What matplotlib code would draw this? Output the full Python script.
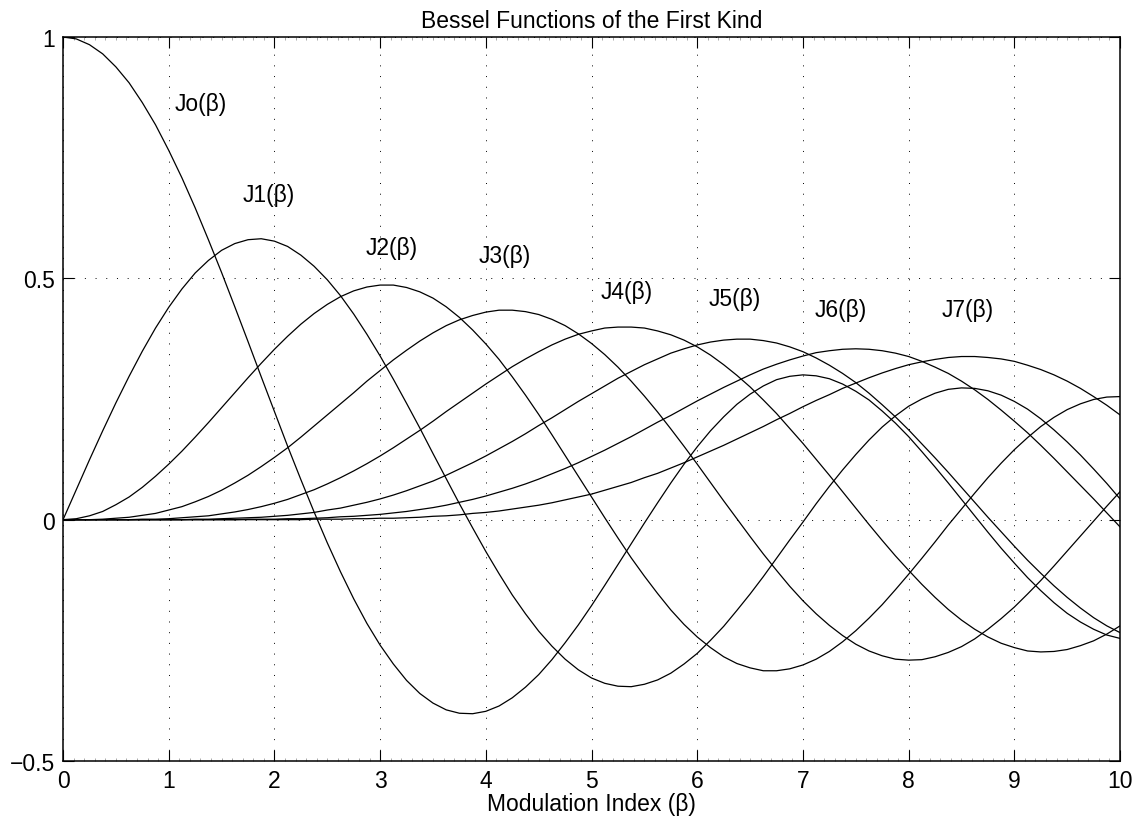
import matplotlib
matplotlib.use("Agg")
import matplotlib.pyplot as plt
import numpy as np
from matplotlib.ticker import MultipleLocator

plt.rcParams['font.family'] = ['Liberation Sans', 'DejaVu Sans']
plt.rcParams['lines.scale_dashes'] = False

beta = np.arange(81) * 0.125

J0 = [1.000, 0.996, 0.984, 0.965, 0.938, 0.905, 0.864, 0.818, 0.765, 0.708,
      0.646, 0.580, 0.512, 0.441, 0.369, 0.296, 0.224, 0.152, 0.083, 0.016,
      -0.048, -0.108, -0.164, -0.215, -0.260, -0.299, -0.333, -0.360, -0.380, -0.394,
      -0.401, -0.402, -0.397, -0.386, -0.369, -0.347, -0.321, -0.290, -0.255, -0.218,
      -0.178, -0.136, -0.093, -0.050, -0.007, 0.035, 0.076, 0.115, 0.151, 0.184,
      0.213, 0.239, 0.260, 0.277, 0.290, 0.297, 0.300, 0.298, 0.292, 0.281,
      0.266, 0.248, 0.225, 0.200, 0.172, 0.141, 0.109, 0.076, 0.042, 0.008,
      -0.026, -0.059, -0.090, -0.120, -0.147, -0.172, -0.194, -0.212, -0.227, -0.239,
      -0.246]
J1 = [0.000, 0.062, 0.124, 0.184, 0.242, 0.297, 0.349, 0.397, 0.440, 0.478,
      0.511, 0.537, 0.558, 0.572, 0.580, 0.582, 0.577, 0.566, 0.548, 0.525,
      0.497, 0.464, 0.426, 0.384, 0.339, 0.291, 0.241, 0.190, 0.137, 0.085,
      0.033, -0.017, -0.066, -0.112, -0.156, -0.195, -0.231, -0.262, -0.289, -0.311,
      -0.328, -0.339, -0.345, -0.346, -0.341, -0.332, -0.318, -0.299, -0.277, -0.250,
      -0.221, -0.188, -0.154, -0.118, -0.080, -0.042, -0.005, 0.033, 0.069, 0.103,
      0.135, 0.165, 0.192, 0.215, 0.235, 0.250, 0.262, 0.270, 0.273, 0.272,
      0.267, 0.258, 0.245, 0.229, 0.209, 0.186, 0.161, 0.134, 0.105, 0.075,
      0.043]
J2 = [0.000, 0.002, 0.008, 0.017, 0.031, 0.047, 0.067, 0.090, 0.115, 0.142,
      0.171, 0.201, 0.232, 0.263, 0.294, 0.324, 0.353, 0.380, 0.405, 0.427,
      0.446, 0.462, 0.474, 0.482, 0.486, 0.486, 0.481, 0.472, 0.459, 0.441,
      0.419, 0.393, 0.364, 0.332, 0.296, 0.258, 0.218, 0.176, 0.133, 0.090,
      0.047, 0.004, -0.038, -0.079, -0.117, -0.153, -0.187, -0.217, -0.243, -0.265,
      -0.284, -0.298, -0.307, -0.313, -0.313, -0.309, -0.301, -0.289, -0.273, -0.253,
      -0.230, -0.204, -0.176, -0.145, -0.113, -0.080, -0.046, -0.011, 0.022, 0.055,
      0.087, 0.117, 0.145, 0.170, 0.193, 0.212, 0.228, 0.240, 0.249, 0.254,
      0.255]
J3 = [0.000, 0.000, 0.000, 0.001, 0.003, 0.005, 0.009, 0.013, 0.020, 0.027,
      0.037, 0.048, 0.061, 0.076, 0.092, 0.110, 0.129, 0.149, 0.171, 0.194,
      0.217, 0.240, 0.263, 0.287, 0.309, 0.331, 0.351, 0.370, 0.387, 0.402,
      0.414, 0.423, 0.430, 0.434, 0.434, 0.431, 0.425, 0.415, 0.402, 0.385,
      0.365, 0.342, 0.316, 0.287, 0.256, 0.223, 0.188, 0.152, 0.115, 0.077,
      0.039, 0.002, -0.035, -0.071, -0.105, -0.138, -0.168, -0.195, -0.219, -0.240,
      -0.258, -0.272, -0.282, -0.289, -0.291, -0.290, -0.284, -0.275, -0.263, -0.247,
      -0.227, -0.205, -0.181, -0.154, -0.126, -0.096, -0.065, -0.034, -0.003, 0.028,
      0.058]
J4 = [0.000, 0.000, 0.000, 0.000, 0.000, 0.000, 0.001, 0.001, 0.002, 0.004,
      0.006, 0.008, 0.012, 0.016, 0.021, 0.027, 0.034, 0.042, 0.052, 0.062,
      0.074, 0.087, 0.101, 0.116, 0.132, 0.149, 0.167, 0.185, 0.204, 0.224,
      0.243, 0.262, 0.281, 0.299, 0.317, 0.333, 0.348, 0.362, 0.374, 0.384,
      0.391, 0.397, 0.399, 0.399, 0.397, 0.391, 0.383, 0.372, 0.358, 0.341,
      0.321, 0.299, 0.275, 0.248, 0.220, 0.189, 0.158, 0.125, 0.092, 0.058,
      0.024, -0.010, -0.043, -0.075, -0.105, -0.134, -0.161, -0.186, -0.208, -0.227,
      -0.243, -0.256, -0.265, -0.272, -0.274, -0.273, -0.269, -0.261, -0.251, -0.237,
      -0.220]
J5 = [0.000, 0.000, 0.000, 0.000, 0.000, 0.000, 0.000, 0.000, 0.000, 0.000,
      0.001, 0.001, 0.002, 0.003, 0.004, 0.005, 0.007, 0.009, 0.012, 0.015,
      0.020, 0.024, 0.030, 0.036, 0.043, 0.051, 0.060, 0.070, 0.080, 0.092,
      0.105, 0.118, 0.132, 0.147, 0.162, 0.178, 0.195, 0.211, 0.228, 0.245,
      0.261, 0.277, 0.293, 0.307, 0.321, 0.333, 0.345, 0.354, 0.362, 0.368,
      0.372, 0.374, 0.374, 0.371, 0.366, 0.358, 0.348, 0.335, 0.320, 0.303,
      0.284, 0.262, 0.238, 0.213, 0.186, 0.157, 0.128, 0.098, 0.067, 0.036,
      0.005, -0.025, -0.055, -0.084, -0.111, -0.137, -0.161, -0.183, -0.203, -0.220,
      -0.234]
J6 = [0.000, 0.000, 0.000, 0.000, 0.000, 0.000, 0.000, 0.000, 0.000, 0.000,
      0.000, 0.000, 0.000, 0.000, 0.001, 0.001, 0.001, 0.002, 0.002, 0.003,
      0.004, 0.006, 0.007, 0.009, 0.011, 0.014, 0.017, 0.021, 0.025, 0.030,
      0.036, 0.042, 0.049, 0.057, 0.065, 0.074, 0.084, 0.095, 0.106, 0.118,
      0.131, 0.144, 0.158, 0.172, 0.187, 0.202, 0.216, 0.231, 0.246, 0.260,
      0.274, 0.287, 0.300, 0.312, 0.322, 0.331, 0.339, 0.346, 0.350, 0.353,
      0.354, 0.353, 0.350, 0.345, 0.338, 0.328, 0.316, 0.303, 0.287, 0.269,
      0.249, 0.227, 0.204, 0.180, 0.154, 0.127, 0.099, 0.071, 0.043, 0.014,
      -0.015]
J7 = [0.000, 0.000, 0.000, 0.000, 0.000, 0.000, 0.000, 0.000, 0.000, 0.000,
      0.000, 0.000, 0.000, 0.000, 0.000, 0.000, 0.000, 0.000, 0.000, 0.001,
      0.001, 0.001, 0.002, 0.002, 0.003, 0.003, 0.004, 0.005, 0.007, 0.008,
      0.010, 0.013, 0.015, 0.018, 0.022, 0.026, 0.030, 0.035, 0.041, 0.047,
      0.053, 0.061, 0.069, 0.077, 0.087, 0.096, 0.107, 0.118, 0.130, 0.142,
      0.154, 0.167, 0.180, 0.193, 0.207, 0.220, 0.234, 0.247, 0.259, 0.272,
      0.283, 0.294, 0.304, 0.313, 0.321, 0.327, 0.332, 0.336, 0.338, 0.338,
      0.336, 0.333, 0.328, 0.320, 0.311, 0.300, 0.287, 0.272, 0.255, 0.237,
      0.217]

series = [J0, J1, J2, J3, J4, J5, J6, J7]
labels = ['Jo(β)', 'J1(β)', 'J2(β)', 'J3(β)', 'J4(β)', 'J5(β)', 'J6(β)', 'J7(β)']
label_x = [1.06, 1.70, 2.86, 3.93, 5.09, 6.11, 7.11, 8.31]
label_y = [0.863, 0.673, 0.563, 0.547, 0.472, 0.458, 0.435, 0.435]

FS = 16.5

fig = plt.figure(figsize=(11.4, 8.2), dpi=100)
ax = fig.add_axes([0.0553, 0.0707, 0.9272, 0.8830])

for ys in series:
    ax.plot(beta, ys, color='black', linewidth=0.9)

for t, lx, ly in zip(labels, label_x, label_y):
    ax.text(lx, ly, t, fontsize=FS, ha='left', va='center')

ax.set_xlim(0, 10)
ax.set_ylim(-0.5, 1)
ax.set_xticks(range(0, 11))
ax.set_yticks([-0.5, 0, 0.5, 1])
ax.set_yticklabels(['\u22120.5', '0', '0.5', '1'])
ax.xaxis.set_minor_locator(MultipleLocator(0.1))
ax.grid(True, which='major', color='black', linestyle=(0, (0.7, 7)), linewidth=0.7)
ax.tick_params(which='major', direction='in', length=8, width=0.8, top=True, right=True,
               labelsize=FS, pad=6)
ax.tick_params(axis='x', which='minor', direction='in', length=2, width=0.5, top=True,
               color='#888888')
for s in ax.spines.values():
    s.set_linewidth(1.1)

ax.set_title('Bessel Functions of the First Kind', fontsize=FS, pad=7)
ax.set_xlabel('Modulation Index (β)', fontsize=FS, labelpad=0)

fig.savefig('out.png', dpi=100)
